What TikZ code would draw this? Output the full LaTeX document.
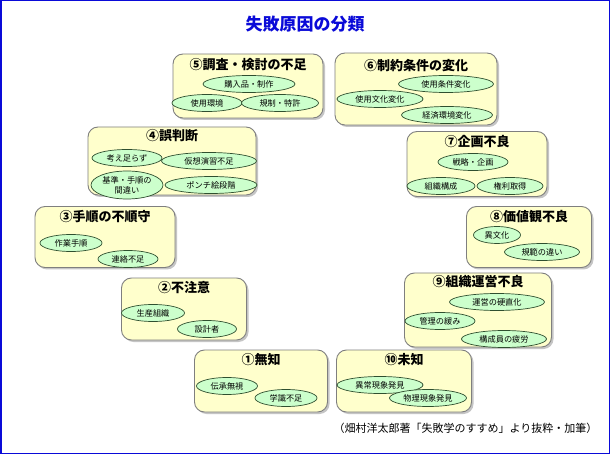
\documentclass[tikz,border=0pt]{standalone}
\usepackage{fontspec}
\usepackage{xcolor}
\usepackage{tikz}
\usetikzlibrary{shapes,positioning,shadows}
\newfontfamily\jp{Noto Sans CJK JP}
\definecolor{boxfill}{HTML}{FFFFCC}
\definecolor{boxline}{HTML}{7F7F7F}
\definecolor{ovalfill}{HTML}{CCFFCC}
\definecolor{ovalline}{HTML}{2F4F2F}
\definecolor{titleblue}{HTML}{0A0AD8}

\begin{document}
\begin{tikzpicture}[
    x=1pt, y=-1pt,
    font=\jp,
    cause/.style={rectangle, draw=boxline, line width=0.9pt, fill=boxfill, rounded corners=10pt,
        drop shadow={shadow xshift=2pt, shadow yshift=-2pt, fill=black!45}},
    head/.style={inner sep=1pt, font=\jp\bfseries\fontsize{13}{15}\selectfont},
    oval/.style={ellipse, draw=ovalline, line width=0.7pt, fill=ovalfill, inner sep=0pt,
        minimum height=17, align=center, font=\jp\fontsize{8.2}{9}\selectfont},
    frame/.style={draw=titleblue, line width=1.5pt}
]
\useasboundingbox (0,0) rectangle (610,454);
\fill[white] (0,0) rectangle (610,454);
\draw[frame] (0.75,0.75) rectangle (609.25,453.25);

\node[font=\jp\bfseries\fontsize{17}{20}\selectfont, text=titleblue] (title) at (305,24) {失敗原因の分類};

% the ten causes
\node[cause, minimum width=150, minimum height=64] (chosa) at (248,86) {};
\node[head, below=4pt of chosa.north] (chosaT) {⑤調査・検討の不足};
\node[oval, minimum width=92] (kounyu) at (249,84) {購入品・制作};
\node[oval, minimum width=70] (shiyou) at (207,103) {使用環境};
\node[oval, minimum width=77] (kisei) at (280,103) {規制・特許};

\node[cause, minimum width=162, minimum height=72] (seiyaku) at (416,89) {};
\node[head, below=6pt of seiyaku.north] (seiyakuT) {⑥制約条件の変化};
\node[oval, minimum width=95] (jouken) at (446,84) {使用条件変化};
\node[oval, minimum width=86] (bunka) at (380,99) {使用文化変化};
\node[oval, minimum width=91] (keizai) at (447,115) {経済環境変化};

\node[cause, minimum width=168, minimum height=68] (gohan) at (172,161) {};
\node[head, below=2pt of gohan.north] (gohanT) {④誤判断};
\node[oval, minimum width=70] (kangae) at (127,158) {考え足らず};
\node[oval, minimum width=95] (kasou) at (209,161) {仮想演習不足};
\node[oval, minimum width=72, minimum height=28, font=\jp\fontsize{8.2}{10}\selectfont] (kijun) at (127,185) {基準・手順の\\間違い};
\node[oval, minimum width=92] (ponchi) at (211,185) {ポンチ絵段階};

\node[cause, minimum width=140, minimum height=65] (kikaku) at (477,164) {};
\node[head, below=3pt of kikaku.north] (kikakuT) {⑦企画不良};
\node[oval, minimum width=70] (senryaku) at (473,162) {戦略・企画};
\node[oval, minimum width=68] (soshiki) at (441,186) {組織構成};
\node[oval, minimum width=66] (kenri) at (510,186) {権利取得};

\node[cause, minimum width=140, minimum height=61] (tejun) at (105,237) {};
\node[head, below=3pt of tejun.north] (tejunT) {③手順の不順守};
\node[oval, minimum width=62] (sagyou) at (71,243) {作業手順};
\node[oval, minimum width=60] (renraku) at (128,259) {連絡不足};

\node[cause, minimum width=125, minimum height=61] (kachi) at (529,237) {};
\node[head, below=3pt of kachi.north] (kachiT) {⑧価値観不良};
\node[oval, minimum width=47] (ibunka) at (497,235) {異文化};
\node[oval, minimum width=75] (kihan) at (542,252) {規範の違い};

\node[cause, minimum width=125, minimum height=62] (fuchui) at (184,309) {};
\node[head, below=3pt of fuchui.north] (fuchuiT) {②不注意};
\node[oval, minimum width=63] (seisan) at (153,313) {生産組織};
\node[oval, minimum width=59] (sekkei) at (207,329) {設計者};

\node[cause, minimum width=147, minimum height=74] (unei) at (478,310) {};
\node[head, below=2pt of unei.north] (uneiT) {⑨組織運営不良};
\node[oval, minimum width=95] (kouchoku) at (497,302) {運営の硬直化};
\node[oval, minimum width=70] (kanri) at (440,321) {管理の緩み};
\node[oval, minimum width=85] (hirou) at (504,339) {構成員の疲労};

\node[cause, minimum width=133, minimum height=62] (muchi) at (261,381) {};
\node[head, below=3pt of muchi.north] (muchiT) {①無知};
\node[oval, minimum width=61] (denshou) at (227,386) {伝承無視};
\node[oval, minimum width=62] (gakushiki) at (286,398) {学識不足};

\node[cause, minimum width=135, minimum height=62] (michi) at (404,381) {};
\node[head, below=3pt of michi.north] (michiT) {⑩未知};
\node[oval, minimum width=86] (ijou) at (380,385) {異常現象発見};
\node[oval, minimum width=77] (butsuri) at (428,398) {物理現象発見};

\node[anchor=east, font=\jp\fontsize{11}{13}\selectfont] (source) at (601,428) {（畑村洋太郎著「失敗学のすすめ」より抜粋・加筆）};

\end{tikzpicture}
\end{document}
